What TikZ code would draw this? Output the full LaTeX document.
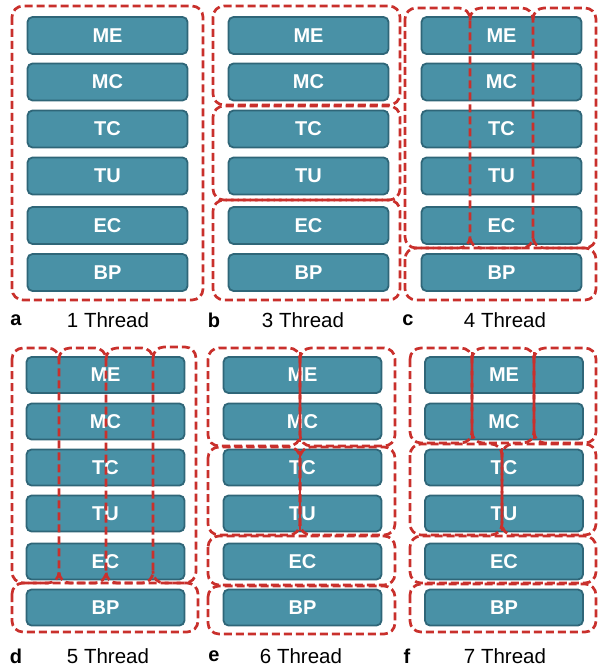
\documentclass[tikz,border=0pt]{standalone}
\usepackage{fontspec}
\setmainfont{Liberation Sans}
\definecolor{boxfill}{RGB}{73,145,166}
\definecolor{boxline}{RGB}{47,102,120}
\definecolor{grpred}{RGB}{201,48,44}
\tikzset{
  stage/.style={draw=boxline, fill=boxfill, line width=1.8pt, rounded corners=5pt,
    minimum width=160pt, minimum height=37pt, inner sep=0pt,
    text=white, font=\fontsize{20}{20}\selectfont\bfseries},
  grp/.style={draw=grpred, line width=2.7pt, dash pattern=on 8pt off 4pt, rounded corners=11pt},
  seam/.style={draw=grpred, line width=2.4pt},
  captext/.style={font=\fontsize{20.5}{20.5}\selectfont, inner sep=0pt},
  tagtext/.style={font=\fontsize{20}{20}\selectfont\bfseries, inner sep=0pt}
}
% strip without its left edge: xl, xr, top, bottom
\newcommand{\openstrip}[4]{%
  \draw[grp] (#1,#3+12) -- (#1,#3) -- (#2,#3) -- (#2,#4) -- (#1,#4) -- (#1,#4-12);}
\begin{document}
\begin{tikzpicture}[x=1pt,y=-1pt]
\useasboundingbox (0,0) rectangle (597,668);
% top row boxes
\foreach \p/\cx in {a/107.5, b/308.5, c/501.5}{
  \foreach \n/\cy in {ME/35.5, MC/82, TC/129, TU/176, EC/225.5, BP/272.5}{
    \node[stage] (\p\n) at (\cx,\cy) {\n};
  }
}
% bottom row boxes
\foreach \p/\cx in {d/105.5, e/302.5, f/504}{
  \foreach \n/\cy in {ME/375, MC/421.5, TC/467.5, TU/513.5, EC/561.5, BP/607.5}{
    \node[stage, minimum width=158pt, minimum height=36pt] (\p\n) at (\cx,\cy) {\n};
  }
}
% panel a
\draw[grp] (12,6) rectangle (203,300);
% panel b
\draw[grp] (213,6) rectangle (400,105);
\draw[grp] (213,106) rectangle (400,200);
\draw[grp] (213,200) rectangle (400,300);
% panel c
\draw[grp] (405,8) rectangle (470,248);
\openstrip{470}{533}{8}{248}
\openstrip{533}{596}{8}{248}
\draw[grp] (405,248) rectangle (596,300);
% panel d
\draw[grp] (12,348) rectangle (59,583);
\openstrip{59}{106}{348}{583}
\openstrip{106}{153}{348}{583}
\openstrip{153}{196}{347}{583}
\draw[grp] (12,583) rectangle (198,632);
% panel e
\draw[grp] (208,348) rectangle (300,446);
\draw[grp] (300,348) rectangle (395,446);
\draw[grp] (208,447) rectangle (300,535);
\draw[grp] (300,447) rectangle (395,535);
\draw[grp] (208,536) rectangle (395,585);
\draw[grp] (208,586) rectangle (395,634);
\draw[seam] (300,352) -- (300,442);
\draw[seam] (300,451) -- (300,531);
% panel f
\draw[grp] (410,348) rectangle (472,443);
\draw[grp] (472,348) rectangle (534,443);
\draw[grp] (534,348) rectangle (596,443);
\draw[grp] (410,444) rectangle (502,535);
\draw[grp] (502,444) rectangle (596,535);
\draw[grp] (410,536) rectangle (596,583);
\draw[grp] (410,584) rectangle (596,632);
\draw[seam] (472,352) -- (472,439);
\draw[seam] (534,352) -- (534,439);
\draw[seam] (502,448) -- (502,531);
% captions
\node[tagtext] (ta) at (16,320) {a};
\node[captext] (ca) at (108,320) {1 Thread};
\node[tagtext] (tb) at (214,320) {b};
\node[captext] (cb) at (303,320) {3 Thread};
\node[tagtext] (tc) at (408,320) {c};
\node[captext] (cc) at (505,320) {4 Thread};
\node[tagtext] (td) at (16,656) {d};
\node[captext] (cd) at (108,656) {5 Thread};
\node[tagtext] (te) at (214,656) {e};
\node[captext] (ce) at (301,656) {6 Thread};
\node[tagtext] (tf) at (407,656) {f};
\node[captext] (cf) at (505,656) {7 Thread};
\end{tikzpicture}
\end{document}
